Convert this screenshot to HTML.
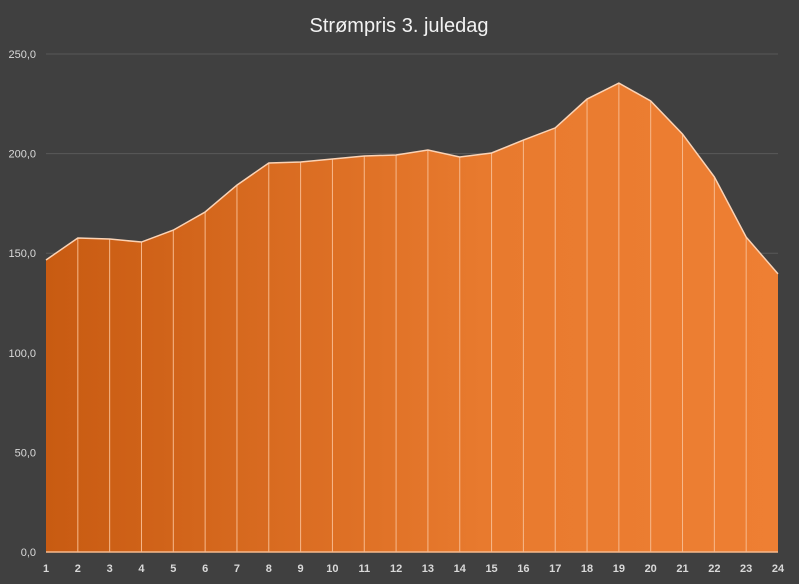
<!DOCTYPE html>
<html><head><meta charset="utf-8"><style>
html,body{margin:0;padding:0;background:#404040;}
svg{display:block;font-family:"Liberation Sans",sans-serif;}
</style></head><body>
<svg id="chart" width="799" height="584">
<defs><linearGradient id="g" x1="0" x2="1" y1="0" y2="0">
<stop offset="0" stop-color="#c85b12"/><stop offset="0.6" stop-color="#e87a2e"/><stop offset="1" stop-color="#ee7f33"/></linearGradient></defs>
<rect width="799" height="584" fill="#404040"/>
<text x="399" y="32" text-anchor="middle" fill="#f2f2f2" font-size="20">Strømpris 3. juledag</text>
<g id="grid"></g><g id="area"></g><g id="ticks"></g>
</svg>
<script>
const categories=["1","2","3","4","5","6","7","8","9","10","11","12","13","14","15","16","17","18","19","20","21","22","23","24"];
const values=[146.6,157.6,157.1,155.6,161.6,170.7,184.2,195.3,195.8,197.3,198.8,199.3,201.8,198.3,200.3,206.8,212.9,227.4,235.4,226.4,209.8,188.3,158.1,139.6];
const yTicks=[0,50,100,150,200,250];
const yTickLabels=["0,0","50,0","100,0","150,0","200,0","250,0"];
const NS="http://www.w3.org/2000/svg";
const x0=46,x1=778,yb=552,yt=54,ymax=250;
const xs=i=>x0+(x1-x0)*i/(categories.length-1);
const ys=v=>yb-(yb-yt)*v/ymax;
function mk(t,a,p){const e=document.createElementNS(NS,t);for(const k in a)e.setAttribute(k,a[k]);p.appendChild(e);return e;}
const grid=document.getElementById('grid'),area=document.getElementById('area'),ticks=document.getElementById('ticks');
yTicks.forEach((v,i)=>{
 if(v>0){const l=mk('line',{x1:x0,x2:x1,y1:ys(v),y2:ys(v),stroke:'#595959','stroke-width':1},grid);
 
 }
 const t=mk('text',{x:36,y:ys(v)+4,'text-anchor':'end',fill:'#d9d9d9','font-size':11},ticks);
 t.textContent=yTickLabels[i];
 
 
});
let d=`M${xs(0)},${ys(0)}`;
values.forEach((v,i)=>{d+=` L${xs(i)},${ys(v)}`;});
d+=` L${xs(values.length-1)},${ys(0)} Z`;
const p=mk('path',{d:d,fill:'url(#g)'},area);


values.forEach((v,i)=>{
 if(i>0&&i<values.length-1){const l=mk('line',{x1:xs(i),x2:xs(i),y1:ys(v),y2:ys(0),stroke:'#f7b98c','stroke-width':1},area);
 
 }
});
let ld='';values.forEach((v,i)=>{ld+=(i?' L':'M')+xs(i)+','+ys(v);});
const ol=mk('path',{d:ld,fill:'none',stroke:'#fbd3b5','stroke-width':1.5},area);


const ax=mk('line',{x1:x0,x2:x1,y1:yb,y2:yb,stroke:'#f7b98c','stroke-width':1.5},area);


categories.forEach((c,i)=>{
 const t=mk('text',{x:xs(i),y:572,'text-anchor':'middle',fill:'#d9d9d9','font-size':11,'font-weight':'bold'},ticks);
 t.textContent=c;
 
 
});
</script>
</body></html>
